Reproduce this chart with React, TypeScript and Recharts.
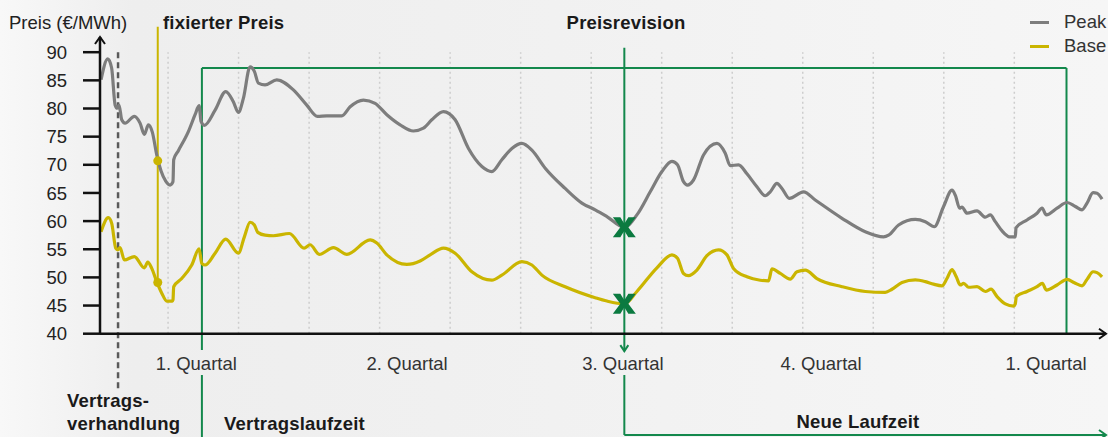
import React from 'react';
import { ComposedChart, Line, XAxis, YAxis, Scatter, ReferenceLine, ReferenceDot } from 'recharts';

// Months counted from the first dotted month line
const peakMonths = [-0.95, -0.855, -0.8, -0.75, -0.72, -0.695, -0.657, -0.61, -0.478, -0.397, -0.336, -0.279, -0.223, -0.16, -0.099, -0.033, 0.028, 0.07, 0.08, 0.146, 0.288, 0.383, 0.44, 0.468, 0.515, 0.667, 0.818, 0.926, 0.997, 1.068, 1.163, 1.224, 1.281, 1.376, 1.542, 1.777, 1.967, 2.118, 2.251, 2.464, 2.582, 2.77, 2.936, 3.102, 3.291, 3.479, 3.621, 3.74, 3.905, 4.071, 4.26, 4.45, 4.591, 4.733, 4.875, 5.017, 5.159, 5.348, 5.631, 5.868, 6.057, 6.223, 6.47, 6.648, 6.837, 7.003, 7.145, 7.224, 7.309, 7.366, 7.451, 7.593, 7.783, 7.901, 7.972, 8.089, 8.209, 8.35, 8.468, 8.539, 8.634, 8.705, 8.809, 9.011, 9.177, 9.556, 9.887, 10.146, 10.217, 10.359, 10.596, 10.738, 10.865, 10.997, 11.116, 11.163, 11.224, 11.258, 11.329, 11.471, 11.589, 11.66, 11.73, 11.826, 11.933, 12.014, 12.024, 12.18, 12.322, 12.393, 12.454, 12.606, 12.748, 12.865, 12.96, 13.031, 13.117, 13.173, 13.244];
const peakValues = [85.1, 88.8, 87.2, 80.6, 80.05, 80.6, 78.0, 77.4, 78.6, 77.4, 75.4, 77.1, 75.8, 71.75, 68.9, 67.1, 66.4, 67.0, 70.9, 72.5, 75.9, 78.9, 80.5, 77.7, 77.0, 79.7, 83.0, 81.2, 79.3, 81.8, 87.4, 86.6, 84.5, 84.2, 85.1, 83.3, 80.6, 78.6, 78.7, 78.7, 80.3, 81.5, 80.9, 78.9, 77.1, 76.0, 76.5, 78.0, 79.45, 78.0, 72.9, 69.7, 68.8, 70.9, 72.9, 73.8, 72.6, 69.4, 65.8, 63.2, 62.0, 60.8, 58.9, 61.1, 65.2, 68.8, 70.6, 70.0, 67.0, 66.4, 67.3, 71.75, 73.8, 72.05, 69.85, 70.0, 68.4, 66.1, 64.5, 65.2, 66.7, 65.8, 64.05, 65.2, 63.75, 60.5, 58.1, 57.2, 57.5, 59.3, 60.3, 59.9, 59.0, 62.6, 65.5, 64.6, 62.3, 62.5, 61.4, 61.8, 60.7, 61.1, 59.9, 58.25, 57.2, 57.2, 58.8, 60.2, 61.4, 62.3, 61.1, 62.3, 63.3, 62.6, 62.0, 63.2, 65.05, 64.95, 63.9];

const baseMonths = [-0.95, -0.847, -0.799, -0.742, -0.713, -0.681, -0.62, -0.478, -0.336, -0.288, -0.231, -0.16, -0.089, -0.018, 0.061, 0.07, 0.08, 0.194, 0.336, 0.44, 0.478, 0.525, 0.667, 0.818, 0.997, 1.082, 1.163, 1.224, 1.272, 1.376, 1.494, 1.721, 1.929, 2.014, 2.146, 2.345, 2.535, 2.865, 2.96, 3.102, 3.386, 3.574, 3.716, 3.905, 4.071, 4.308, 4.591, 4.733, 5.017, 5.159, 5.301, 5.631, 6.057, 6.223, 6.47, 6.648, 6.932, 7.145, 7.224, 7.309, 7.38, 7.499, 7.641, 7.806, 7.925, 8.018, 8.209, 8.397, 8.515, 8.563, 8.681, 8.823, 8.918, 9.035, 9.201, 9.556, 9.887, 10.17, 10.265, 10.407, 10.596, 10.738, 10.855, 10.974, 11.045, 11.116, 11.177, 11.234, 11.281, 11.352, 11.471, 11.589, 11.67, 11.755, 11.872, 11.99, 12.014, 12.028, 12.18, 12.322, 12.397, 12.454, 12.606, 12.748, 12.851, 12.96, 13.031, 13.117, 13.173, 13.244];
const baseValues = [58.1, 60.6, 59.6, 55.2, 54.9, 55.3, 53.1, 53.7, 51.7, 52.7, 51.6, 49.2, 47.2, 45.8, 45.8, 46.0, 48.35, 49.8, 52.2, 55.05, 52.5, 52.2, 54.3, 56.8, 54.3, 57.2, 59.8, 59.3, 58.0, 57.5, 57.4, 57.8, 55.2, 55.8, 54.1, 55.3, 54.1, 56.65, 56.1, 54.0, 52.3, 52.9, 54.0, 55.2, 54.3, 51.0, 49.5, 50.4, 52.8, 52.2, 50.4, 48.35, 46.4, 45.8, 45.3, 47.5, 51.7, 54.0, 53.4, 50.7, 50.3, 51.3, 53.85, 54.9, 54.0, 51.6, 50.1, 49.5, 49.4, 51.5, 50.7, 49.7, 51.0, 51.3, 49.8, 48.35, 47.5, 47.35, 47.9, 49.1, 49.55, 49.25, 48.8, 48.5, 49.8, 51.4, 50.1, 48.65, 48.95, 48.25, 48.35, 47.5, 47.9, 46.6, 45.3, 44.9, 45.3, 46.6, 47.5, 48.35, 48.95, 47.75, 48.65, 49.65, 49.05, 48.5, 49.65, 51.0, 50.85, 50.1];

const yTicks = [40, 45, 50, 55, 60, 65, 70, 75, 80, 85, 90];
const quarterPositions = [0.4, 3.39, 6.45, 9.26, 12.45];
const quarterLabels = ['1. Quartal', '2. Quartal', '3. Quartal', '4. Quartal', '1. Quartal'];
const monthLines = [0, 1, 2, 3, 4, 5, 6, 7, 8, 9, 10, 11, 12];
const seriesNames = ['Peak', 'Base'];
const seriesColors = ['#7d7d7d', '#cab500'];

const xDomain: [number, number] = [-0.965, 13.3];
const yDomain: [number, number] = [40, 92.7];

const negotiationMonth = -0.709;
const fixedMonth = -0.146;
const fixedPoints = [{ m: fixedMonth, v: 70.7 }, { m: fixedMonth, v: 49.1 }];
const revisionMonth = 6.47;
const revisionPoints = [{ m: revisionMonth, v: 58.9 }, { m: revisionMonth, v: 45.3 }];
const contractStart = 0.48;
const contractEnd = 12.74;
const contractTop = 87.2;

const GREEN = '#13884c';
const MARK_GREEN = '#0b7a40';
const FONT = "'Liberation Sans', Arial, Helvetica, sans-serif";

const peakData = peakMonths.map((m, i) => ({ m, v: peakValues[i] }));
const baseData = baseMonths.map((m, i) => ({ m, v: baseValues[i] }));

const chevron = (dir: string, color: string, w = 2) => (props: any) => {
  const { cx, cy } = props;
  let d = '';
  if (dir === 'up') d = `M${cx - 5},${cy + 7}L${cx},${cy}L${cx + 5},${cy + 7}`;
  if (dir === 'right') d = `M${cx - 7},${cy - 5}L${cx},${cy}L${cx - 7},${cy + 5}`;
  if (dir === 'down') d = `M${cx - 4},${cy - 6}L${cx},${cy}L${cx + 4},${cy - 6}`;
  return <path d={d} fill="none" stroke={color} strokeWidth={w} />;
};

const XMark = (props: any) => {
  const { cx, cy } = props;
  const p = [
    [-11.5, -10], [-4, -10], [0, -3.5], [4, -10], [11.5, -10], [4, 0], [11.5, 10], [4, 10], [0, 3.5], [-4, 10], [-11.5, 10], [-4, 0],
  ].map(([a, b]) => `${cx + a},${cy + b}`).join(' ');
  return <polygon points={p} fill={MARK_GREEN} />;
};

const Dot = (props: any) => <circle cx={props.cx} cy={props.cy} r={4.5} fill={seriesColors[1]} />;

const QuarterTick = (props: any) => {
  const { x, y, payload } = props;
  const idx = quarterPositions.indexOf(payload.value);
  return (
    <text x={x} y={y} textAnchor="middle" fontSize={18.5} fill="#333" fontFamily={FONT}>
      {quarterLabels[idx]}
    </text>
  );
};

const label = (extra: React.CSSProperties): React.CSSProperties => ({
  position: 'absolute',
  fontFamily: FONT,
  fontSize: 18.5,
  lineHeight: '18px',
  whiteSpace: 'nowrap',
  color: '#1a1a1a',
  ...extra,
});

export default function App() {
  return (
    <div
      style={{
        position: 'absolute',
        left: 0,
        top: 0,
        width: 1108,
        height: 437,
        overflow: 'hidden',
        background: 'linear-gradient(to right, #f8f8f8 0%, #eeeeee 12%, #f0f0f0 40%, #f6f6f6 100%)',
      }}
    >
      <style>{'body{margin:0}'}</style>
      <ComposedChart width={1108} height={437} margin={{ top: 37, right: 2, bottom: 0, left: 0 }}>
        <XAxis
          type="number"
          dataKey="m"
          domain={xDomain}
          allowDataOverflow
          ticks={quarterPositions}
          tick={<QuarterTick />}
          tickLine={false}
          tickSize={0}
          tickMargin={36}
          height={103.3}
          interval={0}
          axisLine={{ stroke: '#111', strokeWidth: 2.5 }}
        />
        <YAxis
          type="number"
          dataKey="v"
          domain={yDomain}
          allowDataOverflow
          ticks={yTicks}
          interval={0}
          width={100}
          tickSize={17}
          tickMargin={16}
          tick={{ fontSize: 18.5, fill: '#222', fontFamily: FONT }}
          tickLine={{ stroke: '#111', strokeWidth: 2.5 }}
          axisLine={{ stroke: '#111', strokeWidth: 2.5 }}
        />
        {monthLines.map((k) => (
          <ReferenceLine
            key={'g' + k}
            segment={[{ x: k, y: 40 }, { x: k, y: 90 }]}
            stroke="#cdcdcd"
            strokeWidth={1.5}
            strokeDasharray="2 3"
            ifOverflow="visible"
          />
        ))}
        {/* contract box */}
        <ReferenceLine segment={[{ x: contractStart, y: contractTop }, { x: contractEnd, y: contractTop }]} stroke={GREEN} strokeWidth={2} ifOverflow="visible" />
        <ReferenceLine segment={[{ x: contractEnd, y: contractTop }, { x: contractEnd, y: 40 }]} stroke={GREEN} strokeWidth={2} ifOverflow="visible" />
        <ReferenceLine segment={[{ x: contractStart, y: contractTop }, { x: contractStart, y: 37.1 }]} stroke={GREEN} strokeWidth={2} ifOverflow="visible" />
        <ReferenceLine segment={[{ x: contractStart, y: 32.66 }, { x: contractStart, y: 21.5 }]} stroke={GREEN} strokeWidth={2} ifOverflow="visible" />
        {/* negotiation dashed line */}
        <ReferenceLine segment={[{ x: negotiationMonth, y: 90 }, { x: negotiationMonth, y: 29.64 }]} stroke="#5a5a5a" strokeWidth={2.5} strokeDasharray="6 4" ifOverflow="visible" />
        {/* fixed price line */}
        <ReferenceLine segment={[{ x: fixedMonth, y: 94.5 }, { x: fixedMonth, y: 49.1 }]} stroke={seriesColors[1]} strokeWidth={2} ifOverflow="visible" />
        {/* price revision */}
        <ReferenceLine segment={[{ x: revisionMonth, y: 90.8 }, { x: revisionMonth, y: 36.9 }]} stroke={GREEN} strokeWidth={2} ifOverflow="visible" />
        <ReferenceLine segment={[{ x: revisionMonth, y: 32.66 }, { x: revisionMonth, y: 22.0 }]} stroke={GREEN} strokeWidth={2} ifOverflow="visible" />
        <ReferenceLine segment={[{ x: revisionMonth, y: 22.0 }, { x: xDomain[1], y: 22.0 }]} stroke={GREEN} strokeWidth={2} ifOverflow="visible" />

        <Line data={peakData} dataKey="v" type="monotone" stroke={seriesColors[0]} strokeWidth={3.2} dot={false} activeDot={false} isAnimationActive={false} />
        <Line data={baseData} dataKey="v" type="monotone" stroke={seriesColors[1]} strokeWidth={3.2} dot={false} activeDot={false} isAnimationActive={false} />

        <Scatter data={fixedPoints} dataKey="v" shape={Dot} isAnimationActive={false} />
        <Scatter data={revisionPoints} dataKey="v" shape={XMark} isAnimationActive={false} />

        <ReferenceDot x={xDomain[0]} y={yDomain[1]} r={0} shape={chevron('up', '#111')} ifOverflow="visible" />
        <ReferenceDot x={xDomain[1]} y={40} r={0} shape={chevron('right', '#111')} ifOverflow="visible" />
        <ReferenceDot x={revisionMonth} y={36.9} r={0} shape={chevron('down', GREEN)} ifOverflow="visible" />
        <ReferenceDot x={xDomain[1]} y={22.0} r={0} shape={chevron('right', GREEN)} ifOverflow="visible" />
      </ComposedChart>

      <div style={label({ left: 9, top: 13.6, color: '#222' })}>Preis (€/MWh)</div>
      <div style={label({ left: 163, top: 13.6, fontWeight: 700, letterSpacing: 0.2 })}>fixierter Preis</div>
      <div style={label({ left: 626, top: 13.6, fontWeight: 700, letterSpacing: 0.2, transform: 'translateX(-50%)' })}>Preisrevision</div>
      <div style={label({ left: 67, top: 392, fontWeight: 700, letterSpacing: 0.2 })}>Vertrags-</div>
      <div style={label({ left: 67, top: 415.3, fontWeight: 700, letterSpacing: 0.2 })}>verhandlung</div>
      <div style={label({ left: 224, top: 415.3, fontWeight: 700, letterSpacing: 0.2 })}>Vertragslaufzeit</div>
      <div style={label({ left: 858, top: 412.6, fontWeight: 700, letterSpacing: 0.2, transform: 'translateX(-50%)' })}>Neue Laufzeit</div>

      {seriesNames.map((name, i) => (
        <React.Fragment key={name}>
          <div style={{ position: 'absolute', left: 1030, top: 21 + i * 24, width: 19, height: 2.5, background: seriesColors[i] }} />
          <div style={label({ left: 1064, top: 12.9 + i * 24, color: '#333' })}>{name}</div>
        </React.Fragment>
      ))}
    </div>
  );
}
